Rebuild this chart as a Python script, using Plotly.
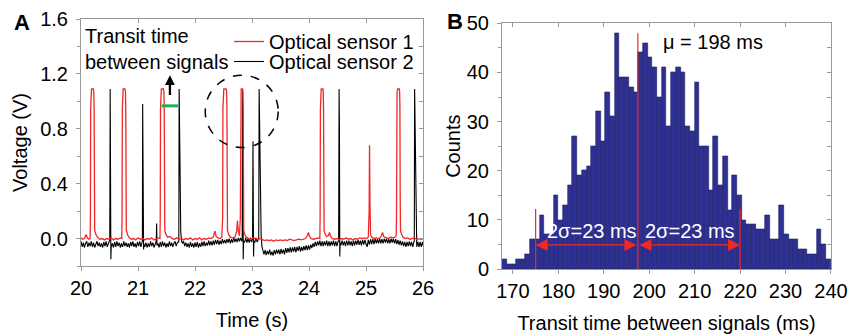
import plotly.graph_objects as go

# ---------------- DATA ----------------
# Panel A: optical sensor signals (time in s, voltage in V)
sensor1_points = [
    (20.00, 0.005), (20.03, -0.005), (20.06, 0.00), (20.09, 0.03), (20.11, 0.005), (20.14, -0.005),
    (20.16, 0.0), (20.165, 0.15), (20.17, 0.95), (20.175, 1.07), (20.185, 1.09), (20.215, 1.09),
    (20.225, 1.07), (20.23, 0.95), (20.235, 0.3), (20.24, 0.06), (20.26, 0.03), (20.29, 0.01),
    (20.33, -0.005), (20.37, 0.0), (20.41, -0.01), (20.45, 0.0), (20.49, -0.005), (20.53, 0.005),
    (20.57, -0.01), (20.61, 0.0), (20.65, -0.005), (20.69, 0.005),
    (20.715, 0.0), (20.72, 0.15), (20.725, 0.95), (20.73, 1.07), (20.74, 1.09), (20.77, 1.09),
    (20.78, 1.07), (20.785, 0.95), (20.79, 0.3), (20.795, 0.06), (20.815, 0.03), (20.84, 0.01),
    (20.88, -0.005), (20.92, 0.0), (20.96, -0.01), (21.00, 0.005), (21.04, -0.005), (21.08, 0.0),
    (21.12, -0.01), (21.16, 0.0), (21.20, -0.005), (21.24, 0.005), (21.28, -0.01), (21.32, 0.0),
    (21.36, 0.005),
    (21.385, 0.0), (21.39, 0.15), (21.395, 0.95), (21.40, 1.07), (21.41, 1.09), (21.445, 1.09),
    (21.455, 1.07), (21.46, 0.95), (21.465, 0.3), (21.47, 0.06), (21.49, 0.03), (21.52, 0.01),
    (21.56, 0.015), (21.60, 0.0), (21.64, -0.005), (21.68, 0.005), (21.72, -0.005), (21.76, 0.0),
    (21.80, -0.01), (21.84, 0.0), (21.88, -0.005), (21.92, 0.005), (21.96, -0.01), (22.00, 0.0),
    (22.04, -0.005), (22.08, 0.005), (22.12, -0.01), (22.16, 0.0), (22.20, -0.005), (22.24, 0.005),
    (22.28, 0.0), (22.32, 0.01), (22.35, 0.055), (22.37, 0.015), (22.40, 0.005), (22.44, 0.0),
    (22.47, 0.01),
    (22.485, 0.15), (22.49, 0.95), (22.495, 1.07), (22.505, 1.09), (22.545, 1.09), (22.555, 1.07),
    (22.56, 0.95), (22.565, 0.3), (22.57, 0.06), (22.59, 0.03), (22.62, 0.01), (22.66, 0.005),
    (22.70, 0.01), (22.73, 0.05), (22.745, 0.13), (22.76, 0.05), (22.78, 0.02),
    (22.795, 0.15), (22.80, 0.95), (22.805, 1.07), (22.81, 1.09), (22.835, 1.09), (22.84, 1.07),
    (22.845, 0.95), (22.85, 0.3), (22.855, 0.06), (22.875, 0.03), (22.90, 0.01),
    (22.94, 0.0), (22.98, -0.005), (23.02, 0.005), (23.06, 0.0), (23.10, -0.005), (23.14, 0.0),
    (23.18, -0.01), (23.22, -0.015), (23.26, -0.01), (23.30, -0.015), (23.34, -0.01), (23.38, -0.02),
    (23.42, -0.01), (23.46, -0.015), (23.50, -0.01), (23.54, -0.015), (23.58, -0.01), (23.62, -0.015),
    (23.66, -0.005), (23.70, -0.01), (23.74, -0.015), (23.78, -0.01), (23.82, -0.005), (23.86, -0.01),
    (23.90, -0.005), (23.94, 0.0), (23.97, 0.02), (23.99, 0.045), (24.01, 0.015), (24.04, 0.0),
    (24.08, -0.005), (24.12, 0.0), (24.16, 0.005),
    (24.19, 0.0), (24.195, 0.15), (24.20, 0.95), (24.205, 1.07), (24.215, 1.09), (24.245, 1.09),
    (24.25, 1.07), (24.255, 0.95), (24.26, 0.3), (24.265, 0.06), (24.285, 0.03), (24.31, 0.015),
    (24.34, 0.02), (24.36, 0.045), (24.38, 0.015), (24.41, 0.0),
    (24.45, -0.005), (24.49, 0.0), (24.53, -0.01), (24.57, 0.0), (24.61, -0.005), (24.65, 0.005),
    (24.69, -0.005), (24.73, 0.0), (24.77, -0.01), (24.81, 0.0), (24.85, -0.005), (24.89, 0.005),
    (24.93, 0.0), (24.97, 0.005), (25.01, 0.0), (25.04, 0.01), (25.055, 0.2), (25.062, 0.68),
    (25.07, 0.25), (25.08, 0.03), (25.10, 0.01),
    (25.14, 0.0), (25.18, 0.005), (25.22, 0.0), (25.26, 0.01), (25.29, 0.045), (25.31, 0.015),
    (25.35, 0.005), (25.39, 0.0), (25.43, 0.01), (25.47, 0.005), (25.51, 0.01),
    (25.53, 0.02), (25.535, 0.15), (25.54, 0.95), (25.545, 1.07), (25.555, 1.09), (25.585, 1.09),
    (25.59, 1.07), (25.595, 0.95), (25.60, 0.3), (25.605, 0.06), (25.625, 0.03), (25.65, 0.01),
    (25.69, 0.0), (25.73, 0.005), (25.77, -0.005), (25.81, 0.0), (25.85, 0.005), (25.89, -0.005),
    (25.93, 0.0), (25.97, -0.005), (26.00, 0.0),
]

sensor2_points = [
    (20.00, -0.02), (20.02, -0.06), (20.04, -0.03), (20.06, -0.065), (20.08, -0.035), (20.10, -0.02),
    (20.12, -0.06), (20.14, -0.03), (20.16, -0.055), (20.18, -0.02), (20.20, -0.06), (20.22, -0.03),
    (20.24, -0.065), (20.26, -0.04), (20.28, -0.02), (20.30, -0.055), (20.32, -0.03), (20.34, -0.06),
    (20.36, -0.035), (20.38, -0.065), (20.40, -0.025), (20.42, -0.055), (20.44, -0.02), (20.46, -0.06),
    (20.48, -0.03), (20.50, -0.02),
    (20.505, -0.01), (20.512, 1.09), (20.518, 0.6), (20.524, -0.15), (20.53, -0.06),
    (20.55, -0.035), (20.57, -0.065), (20.59, -0.025), (20.61, -0.06), (20.63, -0.02), (20.65, -0.055),
    (20.67, -0.03), (20.69, -0.065), (20.71, -0.035), (20.73, -0.06), (20.75, -0.02), (20.77, -0.055),
    (20.79, -0.03), (20.81, -0.06), (20.83, -0.035), (20.85, -0.065), (20.87, -0.025), (20.89, -0.055),
    (20.91, -0.02), (20.93, -0.06), (20.95, -0.035), (20.97, -0.065), (20.99, -0.025), (21.01, -0.055),
    (21.03, -0.02), (21.05, -0.06), (21.07, -0.03),
    (21.077, -0.02), (21.082, 0.98), (21.087, 0.64), (21.093, 0.05), (21.098, -0.08), (21.105, -0.04),
    (21.12, -0.06), (21.14, -0.03), (21.16, -0.065), (21.18, -0.035), (21.20, -0.06), (21.22, -0.02),
    (21.24, -0.055), (21.26, -0.03), (21.28, -0.065), (21.30, -0.035), (21.32, -0.02),
    (21.327, 0.11), (21.333, -0.05),
    (21.35, -0.035), (21.37, -0.065), (21.39, -0.025), (21.41, -0.06), (21.43, -0.02), (21.45, -0.055),
    (21.47, -0.03), (21.49, -0.065), (21.51, -0.035), (21.53, -0.06), (21.55, -0.02), (21.57, -0.055),
    (21.59, -0.03), (21.61, -0.06), (21.63, -0.035), (21.65, -0.02), (21.67, -0.055), (21.69, -0.03),
    (21.71, -0.025),
    (21.716, -0.02), (21.722, 1.09), (21.728, 0.92), (21.738, 0.35), (21.75, 0.05), (21.765, -0.02),
    (21.78, -0.035), (21.80, -0.02), (21.82, -0.055), (21.84, -0.03), (21.86, -0.06), (21.88, -0.035),
    (21.90, -0.065), (21.92, -0.025), (21.94, -0.06), (21.96, -0.035), (21.98, -0.065), (22.00, -0.03),
    (22.02, -0.06), (22.04, -0.025), (22.06, -0.065), (22.08, -0.035), (22.10, -0.06), (22.12, -0.025),
    (22.14, -0.055), (22.16, -0.02), (22.18, -0.055), (22.20, -0.03), (22.22, -0.05), (22.24, -0.015),
    (22.26, -0.05), (22.28, -0.02), (22.30, -0.05), (22.32, -0.015), (22.34, -0.045), (22.36, -0.01),
    (22.38, -0.04), (22.40, -0.01), (22.42, -0.045), (22.44, -0.015), (22.46, -0.04), (22.48, -0.005),
    (22.50, -0.035), (22.52, -0.01), (22.54, -0.035), (22.56, -0.005), (22.58, -0.03), (22.60, 0.0),
    (22.62, -0.035), (22.64, -0.005), (22.66, -0.03), (22.68, 0.005), (22.70, -0.025), (22.72, 0.0),
    (22.74, -0.025), (22.76, 0.005), (22.78, -0.02), (22.80, 0.005), (22.82, -0.02),
    (22.828, 0.0), (22.834, 1.09), (22.84, 0.88), (22.846, -0.15), (22.852, -0.02),
    (22.87, -0.025), (22.89, 0.005), (22.91, -0.03), (22.93, 0.0), (22.95, -0.03), (22.97, 0.005),
    (22.99, -0.025), (23.01, -0.005),
    (23.017, 0.71), (23.022, 0.3), (23.027, -0.13), (23.034, -0.02),
    (23.05, -0.025), (23.07, 0.005), (23.09, -0.025), (23.11, -0.005),
    (23.118, 0.0), (23.125, 1.09), (23.132, 0.92), (23.145, 0.35), (23.16, 0.03), (23.175, -0.06),
    (23.19, -0.08), (23.21, -0.115), (23.23, -0.085), (23.25, -0.12), (23.27, -0.09), (23.29, -0.115),
    (23.31, -0.08), (23.33, -0.12), (23.35, -0.095), (23.37, -0.125), (23.39, -0.085), (23.41, -0.115),
    (23.43, -0.08), (23.45, -0.11), (23.47, -0.08), (23.49, -0.115), (23.51, -0.075), (23.53, -0.11),
    (23.55, -0.08), (23.57, -0.115), (23.59, -0.07), (23.61, -0.105), (23.63, -0.07), (23.65, -0.10),
    (23.67, -0.065), (23.69, -0.10), (23.71, -0.065), (23.73, -0.095), (23.75, -0.06), (23.77, -0.10),
    (23.79, -0.06), (23.81, -0.09), (23.83, -0.055), (23.85, -0.095), (23.87, -0.06), (23.89, -0.09),
    (23.91, -0.055), (23.93, -0.085), (23.95, -0.05), (23.97, -0.085), (23.99, -0.05), (24.01, -0.08),
    (24.03, -0.045), (24.05, -0.07), (24.07, -0.035), (24.09, -0.06), (24.11, -0.025), (24.13, -0.055),
    (24.15, -0.02), (24.17, -0.05), (24.19, -0.015), (24.21, -0.055), (24.23, -0.02), (24.25, -0.055),
    (24.27, -0.02), (24.29, -0.05), (24.31, -0.015), (24.33, -0.055), (24.35, -0.02), (24.37, -0.055),
    (24.39, -0.02), (24.41, -0.05), (24.43, -0.015), (24.45, -0.055), (24.47, -0.02), (24.49, -0.055),
    (24.51, -0.02), (24.52, -0.02),
    (24.528, 1.09), (24.534, 0.8), (24.54, -0.13), (24.547, -0.03),
    (24.56, -0.05), (24.58, -0.015), (24.60, -0.05), (24.62, -0.02), (24.64, -0.055), (24.66, -0.015),
    (24.68, -0.05), (24.70, -0.015), (24.72, -0.05), (24.74, -0.02), (24.76, -0.055), (24.78, -0.015),
    (24.80, -0.05), (24.82, -0.015), (24.84, -0.045), (24.86, -0.01), (24.88, -0.045), (24.90, -0.015),
    (24.92, -0.05), (24.94, -0.01), (24.96, -0.045), (24.98, -0.01), (25.00, -0.04), (25.02, -0.06),
    (25.04, -0.01), (25.06, -0.045), (25.08, -0.005), (25.10, -0.04), (25.12, -0.005), (25.14, -0.04),
    (25.16, 0.0), (25.18, -0.035), (25.20, -0.005), (25.22, -0.035), (25.24, 0.0), (25.26, -0.035),
    (25.28, -0.005), (25.30, -0.035), (25.32, 0.0), (25.34, -0.03), (25.36, 0.0), (25.38, -0.035),
    (25.40, -0.005), (25.42, -0.035), (25.44, 0.0), (25.46, -0.03), (25.48, 0.0), (25.50, -0.035),
    (25.52, -0.005), (25.54, -0.04), (25.56, -0.01), (25.58, -0.045), (25.60, -0.015), (25.62, -0.05),
    (25.64, -0.02), (25.66, -0.055), (25.68, -0.025), (25.70, -0.06), (25.72, -0.025), (25.74, -0.055),
    (25.76, -0.02), (25.78, -0.055), (25.80, -0.025), (25.82, -0.06), (25.84, -0.025),
    (25.847, -0.02), (25.853, 1.09), (25.86, 0.88), (25.87, 0.3), (25.88, 0.02), (25.89, -0.06),
    (25.91, -0.025), (25.93, -0.06), (25.95, -0.025), (25.97, -0.06), (25.99, -0.025), (26.00, -0.05),
]

# transit-time marker (green bar) and arrow, dashed circle (data coords)
transit_bar_t = [21.415, 21.705]
transit_bar_v = 0.967
transit_arrow = {"t": 21.56, "v_from": 1.035, "v_to": 1.19}
circle_box = {"t0": 22.18, "t1": 23.46, "v0": 0.663, "v1": 1.19}

# Panel B: histogram of transit times
hist_bin_start = 167.6
hist_bin_width = 1.034
hist_counts = [2, 1, 1, 2, 2, 3, 6, 6, 11, 7,
               7, 15, 10, 13, 17, 27, 19, 20, 21, 25,
               32, 26, 36, 31, 48, 39, 39, 37, 36, 44,
               46, 43, 41, 35, 41, 29, 40, 41, 40, 29,
               28, 38, 25, 25, 16, 27, 17, 23, 12, 19,
               15, 10, 9, 9, 8, 8, 11, 6, 6, 13,
               7, 6, 6, 4, 4, 3, 3, 8, 5, 2]
mean_ms = 197.5
mean_line_top = 48
sigma_left_ms = 175
sigma_right_ms = 220
sigma_line_top = 12.2
sigma_arrow_y = 4.9

# ---------------- FIGURE ----------------
FONT = "Liberation Sans, Arial, sans-serif"
AXC = "#9a9a9a"
RED = "#f02828"
W, H = 848, 334
FS = 20

fig = go.Figure()

t2 = [p[0] for p in sensor2_points]
v2 = [p[1] for p in sensor2_points]
t1 = [p[0] for p in sensor1_points]
v1 = [p[1] for p in sensor1_points]

fig.add_trace(go.Scatter(x=t2, y=v2, mode="lines", name="Optical sensor 2",
                         line=dict(color="black", width=1.1), legend="legend2",
                         xaxis="x", yaxis="y"))
fig.add_trace(go.Scatter(x=t1, y=v1, mode="lines", name="Optical sensor 1",
                         line=dict(color=RED, width=1.3), legend="legend",
                         xaxis="x", yaxis="y"))
fig.add_trace(go.Scatter(x=transit_bar_t, y=[transit_bar_v] * 2, mode="lines",
                         line=dict(color="#1fb24a", width=3), showlegend=False,
                         xaxis="x", yaxis="y"))

centers = [hist_bin_start + hist_bin_width * (i + 0.5) for i in range(len(hist_counts))]
fig.add_trace(go.Bar(x=centers, y=hist_counts, width=hist_bin_width,
                     marker=dict(color="#2e3192", line=dict(color="#1c1f66", width=0.6)),
                     showlegend=False, xaxis="x2", yaxis="y2"))
for xm, top in [(mean_ms, mean_line_top), (sigma_left_ms, sigma_line_top),
                (sigma_right_ms, sigma_line_top)]:
    fig.add_trace(go.Scatter(x=[xm, xm], y=[0, top], mode="lines",
                             line=dict(color=RED, width=1.2), showlegend=False,
                             xaxis="x2", yaxis="y2"))

# overlay axes for inward mirrored ticks
fig.add_trace(go.Scatter(x=[None], y=[None], xaxis="x3", yaxis="y3", showlegend=False, hoverinfo="skip"))
fig.add_trace(go.Scatter(x=[None], y=[None], xaxis="x4", yaxis="y4", showlegend=False, hoverinfo="skip"))

xdA = [81 / W, 423 / W]
ydA = [(H - 266) / H, (H - 19) / H]
xdB = [502 / W, 831 / W]
ydB = [(H - 269) / H, (H - 23.3) / H]
xrB = [167.6, 240.01]

tickfont = dict(family=FONT, size=FS, color="black")
titlefont = dict(family=FONT, size=FS, color="black")
common = dict(showline=True, linecolor=AXC, linewidth=1, mirror=True, showgrid=False,
              zeroline=False, ticks="outside", ticklen=4, tickcolor=AXC, tickfont=tickfont,
              automargin=False, ticklabeloverflow="allow")
inner = dict(showline=False, showgrid=False, zeroline=False, ticks="inside", ticklen=4,
             tickcolor=AXC, showticklabels=False, automargin=False)

legend_common = dict(xanchor="left", yanchor="top", bgcolor="rgba(0,0,0,0)",
                     font=dict(family=FONT, size=FS, color="black"), itemwidth=30)

fig.update_layout(
    width=W, height=H, margin=dict(l=0, r=0, t=0, b=0, autoexpand=False),
    paper_bgcolor="white", plot_bgcolor="white",
    font=dict(family=FONT, size=FS, color="black"),
    bargap=0,
    xaxis=dict(domain=xdA, anchor="y", range=[20, 26], dtick=1, tick0=20,
               title=dict(text="Time (s)", font=titlefont, standoff=14),
               ticklabelstandoff=0, **common),
    yaxis=dict(domain=ydA, anchor="x", range=[-0.2, 1.6], dtick=0.4, tick0=0,
               tickformat=".1f", minor=dict(dtick=0.2, ticks="outside", ticklen=3, tickcolor=AXC),
               title=dict(text="Voltage (V)", font=titlefont, standoff=7),
               ticklabelstandoff=4, **common),
    xaxis3=dict(overlaying="x", anchor="y", side="top", range=[20, 26], dtick=1, tick0=20, **inner),
    yaxis3=dict(overlaying="y", anchor="x", side="right", range=[-0.2, 1.6], dtick=0.2, tick0=0, **inner),
    xaxis2=dict(domain=xdB, anchor="y2", range=xrB, dtick=10, tick0=170,
                title=dict(text="Transit time between signals (ms)", font=titlefont, standoff=18),
                ticklabelstandoff=0, **common),
    yaxis2=dict(domain=ydB, anchor="x2", range=[0, 50], dtick=10, tick0=0,
                minor=dict(dtick=5, ticks="outside", ticklen=3, tickcolor=AXC),
                title=dict(text="Counts", font=titlefont, standoff=0),
                ticklabelstandoff=4, **common),
    xaxis4=dict(overlaying="x2", anchor="y2", side="top", range=xrB, dtick=10, tick0=170, **inner),
    yaxis4=dict(overlaying="y2", anchor="x2", side="right", range=[0, 50], dtick=5, tick0=0, **inner),
    legend=dict(x=229 / W, y=(H - 22) / H, **legend_common),
    legend2=dict(x=229 / W, y=(H - 42) / H, **legend_common),
)

fig.add_shape(type="circle", xref="x", yref="y",
              x0=circle_box["t0"], x1=circle_box["t1"], y0=circle_box["v0"], y1=circle_box["v1"],
              line=dict(color="black", width=1.5, dash="dash"))

annotations = [
    dict(text="<b>A</b>", xref="paper", yref="paper", x=12 / W, y=(H - 8) / H,
         xanchor="left", yanchor="top", showarrow=False, font=dict(family=FONT, size=22)),
    dict(text="<b>B</b>", xref="paper", yref="paper", x=445 / W, y=(H - 7) / H,
         xanchor="left", yanchor="top", showarrow=False, font=dict(family=FONT, size=22)),
    dict(text="Transit time<br>between signals", xref="paper", yref="paper", x=83 / W, y=(H - 23) / H,
         xanchor="left", yanchor="top", align="left", showarrow=False, font=dict(family=FONT, size=FS)),
    dict(text="", xref="x", yref="y", axref="x", ayref="y",
         x=transit_arrow["t"], y=transit_arrow["v_to"], ax=transit_arrow["t"], ay=transit_arrow["v_from"],
         showarrow=True, arrowhead=2, arrowsize=0.85, arrowwidth=2.3, arrowcolor="black", standoff=0),
    dict(text="μ = 198 ms", xref="x2", yref="y2", x=202.5, y=46.2, xanchor="left", yanchor="middle",
         showarrow=False, font=dict(family=FONT, size=FS, color="black")),
    dict(text="2σ=23 ms", xref="x2", yref="y2", x=187.3, y=7.8, xanchor="center", yanchor="middle",
         showarrow=False, font=dict(family=FONT, size=FS, color="white")),
    dict(text="2σ=23 ms", xref="x2", yref="y2", x=208.9, y=7.8, xanchor="center", yanchor="middle",
         showarrow=False, font=dict(family=FONT, size=FS, color="white")),
    dict(text="", xref="x2", yref="y2", axref="x2", ayref="y2",
         x=sigma_left_ms, y=sigma_arrow_y, ax=mean_ms, ay=sigma_arrow_y,
         showarrow=True, arrowhead=2, startarrowhead=2, arrowside="end+start",
         arrowsize=2, startarrowsize=2, arrowwidth=1.2, arrowcolor=RED, standoff=0, startstandoff=0),
    dict(text="", xref="x2", yref="y2", axref="x2", ayref="y2",
         x=sigma_right_ms, y=sigma_arrow_y, ax=mean_ms, ay=sigma_arrow_y,
         showarrow=True, arrowhead=2, startarrowhead=2, arrowside="end+start",
         arrowsize=2, startarrowsize=2, arrowwidth=1.2, arrowcolor=RED, standoff=0, startstandoff=0),
]
fig.update_layout(annotations=annotations)

fig.write_html("out.html")
